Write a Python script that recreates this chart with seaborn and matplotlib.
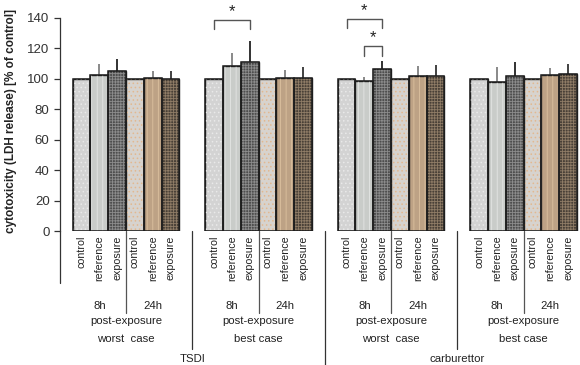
import numpy as np
import pandas as pd
import matplotlib
matplotlib.use("Agg")
import matplotlib.pyplot as plt
import matplotlib.transforms as mtransforms
from matplotlib.patches import Rectangle
import seaborn as sns

# ---------------- data ----------------
conditions = ["control", "reference", "exposure"]
timepoints = ["8h", "24h"]
scenario_labels = ["worst  case", "best case", "worst  case", "best case"]
source_labels = ["TSDI", "carburettor"]

tsdi_worst_mean = [100, 102.8, 105.0, 100, 100.5, 100.2]
tsdi_worst_err = [0, 7.0, 7.9, 0, 4.8, 5.0]
tsdi_best_mean = [100, 108.3, 111.1, 100, 100.4, 100.4]
tsdi_best_err = [0, 8.5, 13.9, 0, 5.2, 7.2]
carb_worst_mean = [100, 98.6, 106.5, 100, 101.7, 101.7]
carb_worst_err = [0, 2.9, 5.3, 0, 6.6, 7.7]
carb_best_mean = [100, 98.0, 101.9, 100, 102.6, 103.2]
carb_best_err = [0, 9.6, 9.2, 0, 4.4, 6.4]

# significance brackets: (block, bar_a, bar_b, top value)
sig_brackets = [(1, 0, 2, 139.0), (2, 0, 2, 139.6), (2, 1, 2, 121.8)]

block_means = [tsdi_worst_mean, tsdi_best_mean, carb_worst_mean, carb_best_mean]
block_errs = [tsdi_worst_err, tsdi_best_err, carb_worst_err, carb_best_err]

# ---------------- styles ----------------
styles = ["c8", "r8", "e8", "c24", "r24", "e24"]
face = {"c8": "#d3d3d3", "r8": "#c9ccc9", "e8": "#4e4e4e",
        "c24": "#d8d3cd", "r24": "#c6a27c", "e24": "#4c4034"}
hatch = {"c8": "....", "r8": "|||", "e8": "++++++",
         "c24": "....", "r24": "|||", "e24": "++++++"}
hatch_col = {"c8": "#e9e9e9", "r8": "#e4e6e4", "e8": "#8c8c8c",
             "c24": "#e2b890", "r24": "#dcc19f", "e24": "#8f7c66"}
err_col = {"c8": "#777777", "r8": "#808080", "e8": "#222222",
           "c24": "#777777", "r24": "#808080", "e24": "#333333"}

offset = 0.71
block_step = 7.44

rows = []
for b in range(4):
    for j in range(6):
        rows.append({"pos": offset + b * block_step + j + 0.5,
                     "value": block_means[b][j],
                     "err": block_errs[b][j],
                     "style": styles[j],
                     "label": conditions[j % 3]})
df = pd.DataFrame(rows)

sns.set_style("ticks")
plt.rcParams["font.family"] = ["Liberation Sans", "DejaVu Sans"]
plt.rcParams["hatch.linewidth"] = 0.6

fig = plt.figure(figsize=(5.8, 3.65), dpi=100)
ax = fig.add_axes([60 / 580, 134 / 365, 520 / 580, 213 / 365])

sns.barplot(data=df, x="pos", y="value", hue="style", palette=face,
            native_scale=True, width=1, dodge=False, errorbar=None,
            edgecolor="#222222", linewidth=1.0, legend=False, ax=ax)

bar_patches = list(ax.patches)
for p in bar_patches:
    cx = p.get_x() + p.get_width() / 2
    k = int(np.argmin(np.abs(df["pos"].values - cx)))
    st = df["style"].iloc[k]
    ax.add_patch(Rectangle((p.get_x(), p.get_y()), p.get_width(), p.get_height(),
                           facecolor="none", edgecolor=hatch_col[st],
                           hatch=hatch[st], linewidth=0, zorder=p.get_zorder() + 0.1))
    ax.add_patch(Rectangle((p.get_x(), p.get_y()), p.get_width(), p.get_height(),
                           facecolor="none", edgecolor="#1e1e1e",
                           linewidth=1.1, zorder=p.get_zorder() + 0.2))

for _, r in df.iterrows():
    if r["err"] > 0:
        ax.vlines(r["pos"], r["value"], r["value"] + r["err"],
                  colors=err_col[r["style"]], linewidth=1.3, zorder=1)

# significance
for b, a, c, top in sig_brackets:
    xa = offset + b * block_step + a + 0.5
    xc = offset + b * block_step + c + 0.5
    ax.plot([xa, xa, xc, xc], [top - 6.5, top, top, top - 6.5],
            color="#555555", linewidth=1.0, clip_on=False)
    ax.text((xa + xc) / 2, top + 0.5, "*", ha="center", va="bottom",
            fontsize=12, color="#222222")

ax.set_xlim(0, 29.2)
ax.set_ylim(0, 140)
ax.set_yticks(range(0, 141, 20))
ax.tick_params(axis="y", labelsize=9.5, colors="#333333", length=4, width=0.9)
ax.set_xticks(df["pos"].values)
ax.set_xticklabels(df["label"].values, rotation=90, fontsize=7.7, color="#222222")
ax.tick_params(axis="x", length=0, pad=3)
ax.set_xlabel("")
ax.set_ylabel("cytotoxicity (LDH release) [% of control]", fontsize=8.5,
              fontweight="bold", color="#222222")
ax.yaxis.set_label_coords(-43 / 520, 0.516)
for s in ["top", "right", "bottom"]:
    ax.spines[s].set_visible(False)
ax.spines["left"].set_color("#333333")
ax.spines["left"].set_linewidth(0.9)

trans = mtransforms.blended_transform_factory(ax.transData, ax.transAxes)
px = 1 / 213.0


def vline(x, down_px, color="#333333"):
    ax.plot([x, x], [0, -down_px * px], color=color, linewidth=0.9,
            transform=trans, clip_on=False)


vline(0, 52)
for b in range(4):
    base = offset + b * block_step
    vline(base + 3, 82, "#555555")
    ax.text(base + 1.5, -75 * px, timepoints[0], transform=trans, ha="center",
            va="center", fontsize=8.2, color="#222222")
    ax.text(base + 4.5, -75 * px, timepoints[1], transform=trans, ha="center",
            va="center", fontsize=8.2, color="#222222")
    ax.text(base + 3, -90 * px, "post-exposure", transform=trans, ha="center",
            va="center", fontsize=8.2, color="#222222")
    ax.text(base + 3, -108 * px, scenario_labels[b], transform=trans, ha="center",
            va="center", fontsize=8.2, color="#222222")

mid01 = offset + 6 + (block_step - 6) / 2
vline(mid01, 118)
vline(mid01 + 2 * block_step, 118)
vline(mid01 + block_step, 134)

for i, lab in enumerate(source_labels):
    cx = offset + (2 * i) * block_step + (block_step + 6) / 2
    ax.text(cx, -128 * px, lab, transform=trans, ha="center", va="center",
            fontsize=8.2, color="#222222")

fig.savefig("out.png", dpi=100)
